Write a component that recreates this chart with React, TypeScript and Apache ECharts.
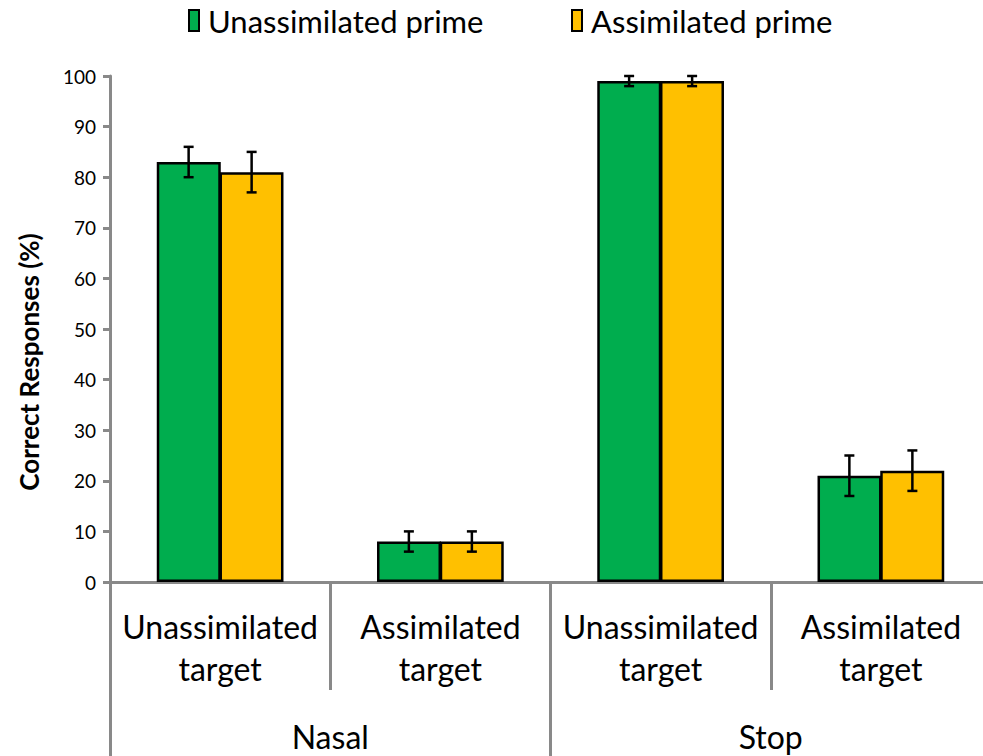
import React, { useEffect, useRef } from "react";
import * as echarts from "echarts";

const categories = ["Unassimilated\ntarget", "Assimilated\ntarget", "Unassimilated\ntarget", "Assimilated\ntarget"];
const groups = ["Nasal", "Stop"];
const seriesNames = ["Unassimilated prime", "Assimilated prime"];
const unassimPrime = [83, 8, 99, 21];
const assimPrime = [81, 8, 99, 22];
const unassimErr = [3, 2, 1, 4];
const assimErr = [4, 2, 1, 4];
const yTicks = [0, 10, 20, 30, 40, 50, 60, 70, 80, 90, 100];

const FONT = "Lato, sans-serif";
const GRAY = "#898989";
const BAR_W = 64;

export default function App() {
  const ref = useRef<HTMLDivElement>(null);
  useEffect(() => {
    if (!ref.current) return;
    const chart = echarts.init(ref.current, null, { renderer: "svg" });
    const errSeries = (vals: number[], errs: number[], sign: number) => ({
      type: "custom",
      xAxisIndex: 0,
      yAxisIndex: 0,
      silent: true,
      z: 10,
      data: vals.map((v, i) => [i, v - errs[i], v + errs[i]]),
      renderItem: (params: any, api: any) => {
        const lo = api.coord([api.value(0), api.value(1)]);
        const hi = api.coord([api.value(0), api.value(2)]);
        const x = lo[0] + sign * (BAR_W / 2 - 0.5);
        const cap = 5;
        const style = { stroke: "#000", lineWidth: 2.5 };
        return {
          type: "group",
          children: [
            { type: "line", shape: { x1: x, y1: lo[1], x2: x, y2: hi[1] }, style },
            { type: "line", shape: { x1: x - cap, y1: lo[1], x2: x + cap, y2: lo[1] }, style },
            { type: "line", shape: { x1: x - cap, y1: hi[1], x2: x + cap, y2: hi[1] }, style },
          ],
        };
      },
    });
    const legendCommon = {
      top: 5,
      padding: 0,
      itemWidth: 10,
      itemHeight: 21,
      itemGap: 6,
      icon: "rect",
      textStyle: { fontSize: 31, color: "#000", fontFamily: FONT, padding: [0, 0, 0, 4] },
    };
    chart.setOption({
      animation: false,
      textStyle: { fontFamily: FONT },
      legend: [
        { ...legendCommon, data: [seriesNames[0]], left: 188 },
        { ...legendCommon, data: [seriesNames[1]], left: 571 },
      ],
      grid: { left: 110, right: 0, top: 76, bottom: 174 },
      xAxis: [
        {
          type: "category",
          data: categories,
          position: "bottom",
          axisLine: { lineStyle: { color: GRAY, width: 3 } },
          axisTick: { show: true, interval: 0, length: 108, lineStyle: { color: GRAY, width: 3 } },
          axisLabel: { interval: 0, fontSize: 32, color: "#000", margin: 23, lineHeight: 42 },
        },
        {
          type: "category",
          data: groups,
          position: "bottom",
          axisLine: { show: false },
          axisTick: { show: true, interval: 0, length: 174, lineStyle: { color: GRAY, width: 3 } },
          axisLabel: { interval: 0, fontSize: 32, color: "#000", margin: 138 },
        },
      ],
      yAxis: {
        type: "value",
        min: yTicks[0],
        max: yTicks[yTicks.length - 1],
        interval: 10,
        splitLine: { show: false },
        axisLine: { show: true, lineStyle: { color: GRAY, width: 3 } },
        axisTick: { show: true, length: 7, lineStyle: { color: GRAY, width: 3 } },
        axisLabel: { fontSize: 19, color: "#000", margin: 14 },
      },
      graphic: [
        {
          type: "text",
          x: 29,
          y: 362,
          rotation: Math.PI / 2,
          style: {
            text: "Correct Responses (%)",
            font: `bold 26px ${FONT}`,
            fill: "#000",
            textAlign: "center",
            textVerticalAlign: "middle",
          },
        },
      ],
      series: [
        {
          name: seriesNames[0],
          type: "bar",
          data: unassimPrime,
          barWidth: BAR_W,
          barGap: "-2%",
          itemStyle: { color: "#00AD4E", borderColor: "#000", borderWidth: 2.5 },
        },
        {
          name: seriesNames[1],
          type: "bar",
          data: assimPrime,
          barWidth: BAR_W,
          barGap: "-2%",
          itemStyle: { color: "#FFC000", borderColor: "#000", borderWidth: 2.5 },
        },
        errSeries(unassimPrime, unassimErr, -1),
        errSeries(assimPrime, assimErr, 1),
      ],
    });
    return () => chart.dispose();
  }, []);
  return (
    <div style={{ position: "absolute", left: 0, top: 0, width: 983, height: 756, overflow: "hidden", background: "#fff" }}>
      <div ref={ref} style={{ width: 991, height: 756 }} />
    </div>
  );
}
